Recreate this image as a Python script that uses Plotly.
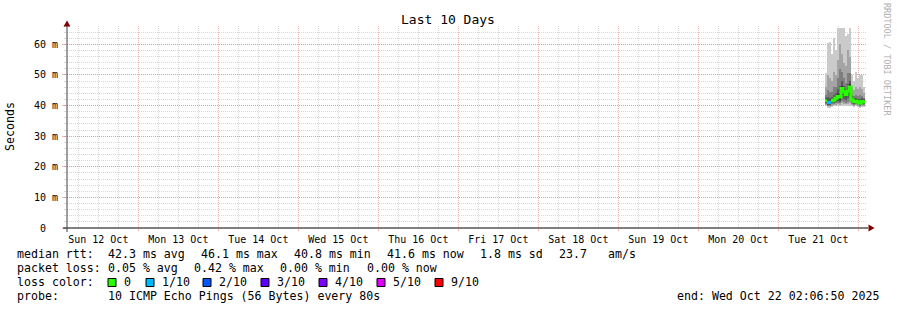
import plotly.graph_objects as go
from datetime import datetime, timedelta

# ---------------- data (milliseconds) ----------------
first_bin = datetime(2025, 10, 21, 14, 0)
bin_minutes = 36
median_ms = [41.6, 41.0, 41.0, 41.6, 41.8, 42.4, 43.0, 42.8, 45.6, 44.5,
             43.5, 44.8, 46.1, 41.9, 41.3, 41.5, 41.2, 40.8, 41.3, 41.2]
loss_of_10 = [0, 1, 1, 0, 0, 0, 0, 0, 0, 0, 0, 0, 0, 0, 0, 0, 0, 0, 0, 0]
ping10 = [50.5, 60.5, 60.7, 57.0, 62.0, 58.0, 65.3, 65.4, 65.4, 65.3, 62.8, 63.5, 65.2, 50.0, 48.0, 51.0, 49.0, 50.0, 50.0, 46.0]
ping9 = [46.0, 50.0, 49.0, 48.0, 51.0, 50.0, 55.0, 60.0, 57.0, 54.0, 53.0, 58.0, 56.0, 46.0, 45.0, 46.0, 45.5, 46.0, 45.5, 44.0]
ping8 = [43.5, 45.0, 44.5, 44.5, 46.0, 46.0, 49.0, 52.0, 51.0, 49.0, 47.5, 50.5, 50.5, 44.0, 43.2, 43.5, 43.2, 43.5, 43.2, 42.6]
ping7 = [42.5, 42.8, 42.5, 42.8, 43.4, 44.0, 45.5, 46.5, 48.0, 46.5, 45.3, 47.0, 48.0, 43.0, 42.4, 42.6, 42.3, 42.3, 42.4, 42.0]
ping6 = [42.0, 41.6, 41.6, 42.1, 42.4, 43.0, 43.8, 43.8, 46.5, 45.3, 44.3, 45.7, 47.0, 42.4, 41.8, 42.0, 41.7, 41.4, 41.8, 41.6]
ping5 = [41.2, 40.6, 40.6, 41.1, 41.3, 41.9, 42.3, 41.9, 44.8, 43.6, 42.7, 44.0, 45.3, 41.4, 40.9, 41.0, 40.8, 40.3, 40.8, 40.8]
ping4 = [40.8, 40.3, 40.3, 40.7, 40.9, 41.2, 41.4, 41.2, 43.0, 42.2, 41.8, 42.5, 43.0, 41.0, 40.6, 40.7, 40.5, 40.1, 40.5, 40.5]
ping3 = [40.5, 40.0, 40.0, 40.4, 40.6, 40.7, 40.8, 40.7, 41.6, 41.2, 41.0, 41.3, 41.6, 40.6, 40.3, 40.4, 40.2, 39.9, 40.2, 40.2]
ping2 = [40.2, 39.7, 39.7, 40.0, 40.2, 40.3, 40.4, 40.3, 40.7, 40.5, 40.4, 40.6, 40.7, 40.2, 40.0, 40.1, 39.9, 39.6, 39.9, 39.9]
ping1 = [39.8, 39.3, 39.2, 39.6, 39.8, 39.7, 39.8, 39.7, 39.9, 39.8, 39.8, 39.9, 40.0, 39.8, 39.6, 39.7, 39.5, 39.2, 39.5, 39.5]

smoke_pairs = [(ping1, ping10), (ping2, ping9), (ping3, ping8), (ping4, ping7), (ping5, ping6)]
smoke_colors = ["#cacaca", "#a4a4a4", "#7e7e7e", "#585858", "#323232"]

loss_levels = [0, 1, 2, 3, 4, 5, 9]
loss_labels = ["0", "1/10", "2/10", "3/10", "4/10", "5/10", "9/10"]
loss_colors = ["#26ff00", "#00b8ff", "#0059ff", "#5e00ff", "#7e00ff", "#dd00ff", "#ff0000"]

y_tick_vals = [0, 0.01, 0.02, 0.03, 0.04, 0.05, 0.06]
y_tick_text = ["0\u00a0\u00a0", "10 m", "20 m", "30 m", "40 m", "50 m", "60 m"]

x_range = ["2025-10-12 02:36:36", "2025-10-22 02:36:36"]
title_text = "Last 10 Days"

rtt_text = ["median rtt:", "42.3 ms avg", "46.1 ms max", "40.8 ms min", "41.6 ms now", "1.8 ms sd", "23.7", "am/s"]
loss_text = ["packet loss:", "0.05 % avg", "0.42 % max", "0.00 % min", "0.00 % now"]
probe_text = ["probe:", "10 ICMP Echo Pings (56 Bytes) every 80s"]
end_text = "end: Wed Oct 22 02:06:50 2025"

# ---------------- geometry helpers (pixels -> paper) ----------------
W, H = 897, 310
L, R, T, B = 67, 867, 26, 228


def px(x):
    return (x - L) / (R - L)


def py(y):
    return (B - y) / (B - T)


n = len(median_ms)
starts = [first_bin + timedelta(minutes=bin_minutes * k) for k in range(n)]
ends = [s + timedelta(minutes=bin_minutes) for s in starts]
centers = [s + timedelta(minutes=bin_minutes / 2) for s in starts]

fig = go.Figure()

# smoke
for (lo, hi), col in zip(smoke_pairs, smoke_colors):
    fig.add_trace(go.Bar(
        x=centers, base=[v * 1e-3 for v in lo],
        y=[(h - l) * 1e-3 for l, h in zip(lo, hi)],
        width=bin_minutes * 60 * 1000, marker=dict(color=col, line=dict(width=0)),
        hoverinfo="skip"))

# median line, coloured by loss
for lvl, col in zip(loss_levels, loss_colors):
    xs, ys = [], []
    k = 0
    while k < n:
        if loss_of_10[k] == lvl:
            j = k
            while j + 1 < n and loss_of_10[j + 1] == lvl:
                j += 1
            for i in range(k, j + 1):
                xs.append(starts[i]); ys.append(median_ms[i] * 1e-3)
            xs.append(ends[j]); ys.append(median_ms[j] * 1e-3)
            xs.append(None); ys.append(None)
            k = j + 1
        else:
            k += 1
    if xs:
        fig.add_trace(go.Scatter(x=xs, y=ys, mode="lines", line=dict(color=col, width=3, shape="hv"),
                                 hoverinfo="skip", connectgaps=False))

RED_GRID = "rgba(235,60,60,0.38)"
GRAY_GRID = "rgba(150,150,150,0.38)"
MONO = "DejaVu Sans Mono"

fig.update_layout(
    width=W, height=H, margin=dict(l=L, r=W - R, t=T, b=H - B),
    paper_bgcolor="white", plot_bgcolor="white", showlegend=False,
    barmode="overlay", bargap=0,
    font=dict(family=MONO, size=10, color="black"),
    xaxis=dict(type="date", range=x_range, tickmode="linear", tick0="2025-10-13",
               dtick=86400000, tickformat="%a %d %b", ticklabelmode="period",
               showgrid=True, gridcolor=RED_GRID, griddash="1px,1px", gridwidth=1,
               ticks="outside", ticklen=2, tickcolor=RED_GRID, zeroline=False, showline=False,
               tickfont=dict(family=MONO, size=10, color="black"),
               minor=dict(dtick=21600000, tick0="2025-10-13", showgrid=True, gridcolor=GRAY_GRID,
                          griddash="1px,1px", ticks="", ticklen=2)),
    yaxis=dict(range=[0, 0.066], tickmode="array", tickvals=y_tick_vals, ticktext=y_tick_text,
               showgrid=True, gridcolor=RED_GRID, griddash="1px,1px", gridwidth=1,
               ticks="outside", ticklen=4, tickcolor=RED_GRID, zeroline=False, showline=False,
               tickfont=dict(family=MONO, size=10, color="black"), ticklabelstandoff=2,
               minor=dict(dtick=0.002, showgrid=True, gridcolor=GRAY_GRID, griddash="1px,1px",
                          ticks="outside", ticklen=2, tickcolor=GRAY_GRID)),
)

shapes = []
# axis lines
shapes.append(dict(type="line", xref="paper", yref="paper", x0=px(63), x1=px(868), y0=py(228), y1=py(228),
                   line=dict(color="black", width=1)))
shapes.append(dict(type="line", xref="paper", yref="paper", x0=px(67), x1=px(67), y0=py(232), y1=py(24),
                   line=dict(color="#404040", width=1)))
# arrows
ARROW = "#7f0000"
shapes.append(dict(type="path", xref="paper", yref="paper",
                   path=f"M {px(67)},{py(20.5)} L {px(63.5)},{py(26.5)} L {px(70.5)},{py(26.5)} Z",
                   fillcolor=ARROW, line=dict(color=ARROW, width=0)))
shapes.append(dict(type="path", xref="paper", yref="paper",
                   path=f"M {px(874.5)},{py(228)} L {px(868.5)},{py(224.5)} L {px(868.5)},{py(231.5)} Z",
                   fillcolor=ARROW, line=dict(color=ARROW, width=0)))

annotations = []


def text(x, y, s, size=11.6, anchor="left", color="black", angle=0):
    annotations.append(dict(xref="paper", yref="paper", x=px(x), y=py(y), text=s, showarrow=False,
                            xanchor=anchor, yanchor="middle", borderpad=0, textangle=angle,
                            font=dict(family=MONO, size=size, color=color)))


text(448, 20, title_text, size=13, anchor="center")
text(10, 127, "Seconds", size=11.6, anchor="center", angle=-90)
text(887, 60, "RRDTOOL / TOBI OETIKER", size=8.5, anchor="center", color="#b0b0b0", angle=90)

rtt_x = [16, 107.3, 200.3, 293.3, 385.7, 479.3, 558.3, 607.3]
for xx, s in zip(rtt_x, rtt_text):
    text(xx, 254.3, s)
loss_x = [16, 107.3, 193.3, 279.3, 365.7]
for xx, s in zip(loss_x, loss_text):
    text(xx, 268.3, s)
text(16, 282.3, "loss color:")
box_x = [108, 146, 203, 261, 319, 377, 435]
for bx, lab, col in zip(box_x, loss_labels, loss_colors):
    shapes.append(dict(type="rect", xref="paper", yref="paper", x0=px(bx), x1=px(bx + 8),
                       y0=py(286.5), y1=py(278.5), fillcolor=col, line=dict(color="black", width=1)))
    text(bx + 15, 282.3, lab)
text(16, 296.3, probe_text[0])
text(107.3, 296.3, probe_text[1])
text(880, 296.3, end_text, anchor="right")

fig.update_layout(shapes=shapes, annotations=annotations)
fig.write_html("out.html")
